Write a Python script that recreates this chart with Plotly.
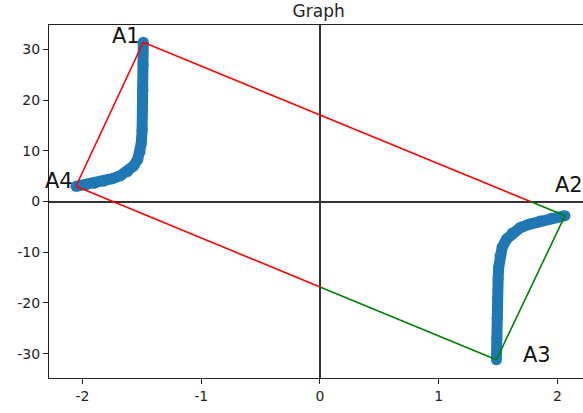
"""
plot.py

Graph: two blue point curves and the quadrilateral A1-A2-A3-A4.
"""

import plotly.graph_objects as go


# =====================================================
# Data

curve_left_x = [
    -2.055, -1.97, -1.90, -1.82, -1.75, -1.68, -1.62, -1.57,
    -1.535, -1.515, -1.505, -1.498, -1.494, -1.491, -1.489, -1.488,
]
curve_left_y = [
    3.0, 3.3, 3.6, 4.0, 4.5, 5.1, 5.9, 7.0,
    8.3, 9.8, 11.5, 14.0, 18.0, 22.0, 27.0, 31.4,
]

curve_right_x = [
    2.063, 1.95, 1.853, 1.76, 1.684, 1.62, 1.572, 1.535,
    1.516, 1.505, 1.50, 1.495, 1.492, 1.489, 1.486,
]
curve_right_y = [
    -2.8, -3.3, -3.86, -4.5, -5.2, -6.2, -7.4, -9.0,
    -10.7, -13.0, -15.3, -19.0, -23.0, -27.0, -31.2,
]

vertex_names = ["A1", "A2", "A3", "A4"]
vertex_x = [-1.488, 2.063, 1.486, -2.055]
vertex_y = [31.4, -2.8, -31.2, 3.0]

x_ticks = [-2, -1, 0, 1, 2]
x_tick_labels = ["-2", "-1", "0", "1", "2"]
y_ticks = [-30, -20, -10, 0, 10, 20, 30]
y_tick_labels = ["-30", "-20", "-10", "0", "10", "20", "30"]

BLUE = "#1f77b4"
RED = "#ff0000"
GREEN = "#008000"
INK = "#222222"


# =====================================================

def split_point(p, q, axis):
    """
    Point where segment p-q crosses x=0 (axis="x") or y=0 (axis="y").
    """

    index = 0 if axis == "x" else 1
    t = p[index] / (p[index] - q[index])

    return (
        p[0] + t * (q[0] - p[0]),
        p[1] + t * (q[1] - p[1]),
    )


# =====================================================

def add_segment(fig, points, color):

    fig.add_trace(
        go.Scatter(
            x=[p[0] for p in points],
            y=[p[1] for p in points],
            mode="lines",
            line=dict(color=color, width=1.6),
            showlegend=False,
            hoverinfo="skip",
        )
    )


# =====================================================

fig = go.Figure()

for xs, ys in ((curve_left_x, curve_left_y), (curve_right_x, curve_right_y)):

    fig.add_trace(
        go.Scatter(
            x=xs,
            y=ys,
            mode="lines+markers",
            line=dict(color=BLUE, width=11),
            marker=dict(color=BLUE, size=11),
            showlegend=False,
        )
    )

a1, a2, a3, a4 = [(x, y) for x, y in zip(vertex_x, vertex_y)]

# upper edge: red until it crosses y=0, then green
cut_upper = split_point(a1, a2, "y")
add_segment(fig, [a4, a1, cut_upper], RED)
add_segment(fig, [cut_upper, a2, a3], GREEN)

# lower edge: red until it crosses x=0, then green
cut_lower = split_point(a4, a3, "x")
add_segment(fig, [a4, cut_lower], RED)
add_segment(fig, [cut_lower, a3], GREEN)

# labels
label_style = {
    "A1": dict(xanchor="right", xshift=-1, yshift=6),
    "A2": dict(xanchor="left", xshift=-12, yshift=31),
    "A3": dict(xanchor="left", xshift=25, yshift=5),
    "A4": dict(xanchor="right", xshift=-1, yshift=5),
}

for name, x, y in zip(vertex_names, vertex_x, vertex_y):

    fig.add_annotation(
        x=x,
        y=y,
        text=name,
        showarrow=False,
        yanchor="middle",
        font=dict(family="DejaVu Sans", size=21, color="#111111"),
        **label_style[name],
    )


# =====================================================

fig.update_layout(
    width=583,
    height=413,
    paper_bgcolor="white",
    plot_bgcolor="white",
    margin=dict(l=49, r=0, t=25, b=35, autoexpand=False),
    font=dict(family="DejaVu Sans", size=14, color=INK),
    title=dict(
        text="Graph",
        x=0.505,
        xref="paper",
        xanchor="center",
        y=0.973,
        yref="container",
        yanchor="middle",
        font=dict(size=17, color=INK),
    ),
)

axis_style = dict(
    ticks="outside",
    ticklen=5,
    tickwidth=1,
    tickcolor=INK,
    showgrid=False,
    showline=True,
    linecolor=INK,
    linewidth=1,
    zeroline=True,
    zerolinecolor="#333333",
    zerolinewidth=2,
    automargin=False,
)

fig.update_xaxes(
    range=[-2.282, 2.215],
    tickvals=x_ticks,
    ticktext=x_tick_labels,
    mirror=True,
    **axis_style,
)

fig.update_yaxes(
    range=[-34.8, 34.8],
    tickvals=y_ticks,
    ticktext=y_tick_labels,
    **axis_style,
)

# the page body has a default margin; drop it so the figure sits at 0,0
fig.write_html(
    "out.html",
    config={"displayModeBar": False},
    post_script=(
        "document.body.style.margin = '0';"
        "document.body.style.overflow = 'hidden';"
    ),
)
